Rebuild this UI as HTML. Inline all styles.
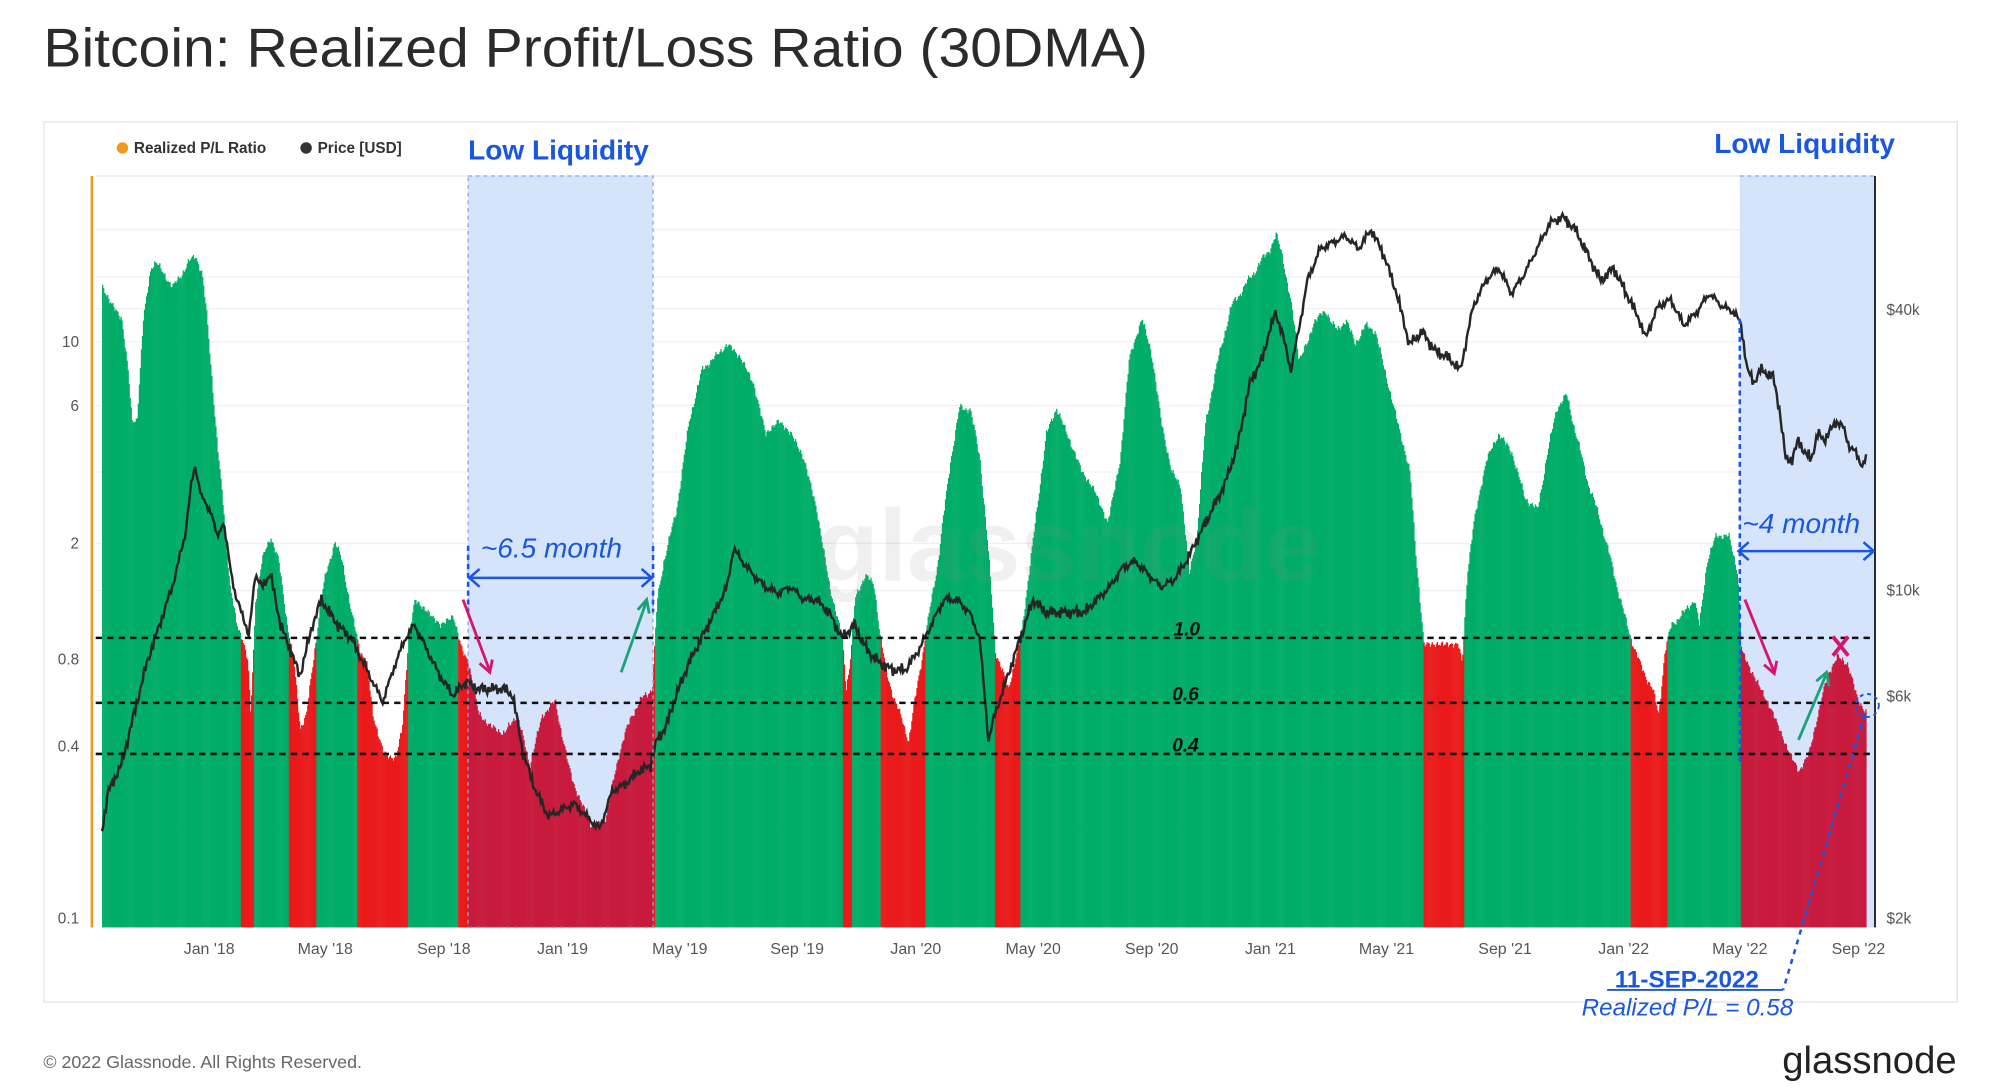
<!DOCTYPE html>
<html><head><meta charset="utf-8">
<style>
html,body{margin:0;padding:0;background:#fff;}
svg{display:block;}
text{font-family:"Liberation Sans",sans-serif;}
</style></head>
<body>
<svg id="c" width="2000" height="1092" viewBox="0 0 1568 856" preserveAspectRatio="none" xmlns="http://www.w3.org/2000/svg">
<rect width="1568" height="856" fill="#fff"/>
<text x="34" y="52" font-size="43" fill="#2b2b2b" textLength="866" lengthAdjust="spacingAndGlyphs">Bitcoin: Realized Profit/Loss Ratio (30DMA)</text>
<rect x="34.5" y="95.5" width="1500" height="690" fill="none" stroke="#e4e4e4"/>
<g stroke="#f0f0f0" stroke-width="1">
<line x1="75" x2="1470" y1="138" y2="138" stroke="#e6e6e6"/>
<line x1="75" x2="1470" y1="180" y2="180"/>
<line x1="75" x2="1470" y1="217" y2="217"/>
<line x1="75" x2="1470" y1="242" y2="242"/>
<line x1="75" x2="1470" y1="268" y2="268"/>
<line x1="75" x2="1470" y1="318" y2="318"/>
<line x1="75" x2="1470" y1="370" y2="370"/>
<line x1="75" x2="1470" y1="426" y2="426"/>
<line x1="75" x2="1470" y1="463" y2="463"/>
<line x1="75" x2="1470" y1="546" y2="546"/>
<line x1="75" x2="1470" y1="650" y2="650"/>
</g>
<rect x="367" y="138" width="145" height="589" fill="#d5e3fb"/>
<rect x="1364" y="138" width="106" height="589" fill="#d5e3fb"/>
<g id="area"></g>
<text x="640" y="455" font-size="80" fill="#888" opacity="0.12" font-weight="bold">glassnode</text>
<path id="price" fill="none" stroke="#262626" stroke-width="1.9"/>
<g fill="none" stroke="#8aa6dd" stroke-width="1" stroke-dasharray="3,3">
<rect x="367" y="138" width="145" height="589"/>
<line x1="1364" y1="138" x2="1470" y2="138"/>
</g>
<line x1="1364" y1="250" x2="1364" y2="600" stroke="#1a57e0" stroke-width="2" stroke-dasharray="4,3"/>
<line x1="367" y1="428" x2="367" y2="480" stroke="#1a57e0" stroke-width="2" stroke-dasharray="4,3"/>
<line x1="512" y1="428" x2="512" y2="480" stroke="#1a57e0" stroke-width="2" stroke-dasharray="4,3"/>
<line x1="72" y1="138" x2="72" y2="727" stroke="#f29a1f" stroke-width="2"/>
<line x1="1470" y1="138" x2="1470" y2="727" stroke="#222" stroke-width="1.5"/>
<g stroke="#111" stroke-width="2" stroke-dasharray="5,4">
<line x1="75" x2="1468" y1="500" y2="500"/>
<line x1="75" x2="1468" y1="551" y2="551"/>
<line x1="75" x2="1468" y1="591" y2="591"/>
</g>
<g font-size="15" font-weight="bold" font-style="italic" fill="#111">
<text x="920" y="498">1.0</text><text x="919" y="549">0.6</text><text x="919" y="589">0.4</text>
</g>
<g font-size="12" fill="#555" text-anchor="end">
<text x="62" y="272">10</text><text x="62" y="322">6</text><text x="62" y="430">2</text>
<text x="62" y="521">0.8</text><text x="62" y="589">0.4</text><text x="62" y="724">0.1</text>
</g>
<g font-size="12" fill="#555">
<text x="1479" y="247">$40k</text><text x="1479" y="467">$10k</text><text x="1479" y="550">$6k</text><text x="1479" y="724">$2k</text>
</g>
<g font-size="12.5" fill="#555" text-anchor="middle">
<text x="164" y="748">Jan '18</text><text x="255" y="748">May '18</text><text x="348" y="748">Sep '18</text>
<text x="441" y="748">Jan '19</text><text x="533" y="748">May '19</text><text x="625" y="748">Sep '19</text>
<text x="718" y="748">Jan '20</text><text x="810" y="748">May '20</text><text x="903" y="748">Sep '20</text>
<text x="996" y="748">Jan '21</text><text x="1087" y="748">May '21</text><text x="1180" y="748">Sep '21</text>
<text x="1273" y="748">Jan '22</text><text x="1364" y="748">May '22</text><text x="1457" y="748">Sep '22</text>
</g>
<circle cx="96" cy="116" r="4.5" fill="#f29a1f"/>
<text x="105" y="120" font-size="12" font-weight="bold" fill="#333">Realized P/L Ratio</text>
<circle cx="240" cy="116" r="4.5" fill="#333"/>
<text x="249" y="120" font-size="12" font-weight="bold" fill="#333">Price [USD]</text>
<g fill="#1a57e0">
<text x="367" y="125" font-size="22" font-weight="bold">Low Liquidity</text>
<text x="1344" y="120" font-size="22" font-weight="bold">Low Liquidity</text>
<text x="377" y="437" font-size="22" font-style="italic">~6.5 month</text>
<text x="1366" y="418" font-size="22" font-style="italic">~4 month</text>
<text x="1266" y="774" font-size="19" font-weight="bold">11-SEP-2022</text>
<text x="1240" y="796" font-size="19" font-style="italic">Realized P/L = 0.58</text>
</g>
<g stroke="#1a57e0" stroke-width="2" fill="none">
<line x1="368" y1="453" x2="511" y2="453"/>
<polyline points="376,446 368,453 376,460"/><polyline points="503,446 511,453 503,460"/>
<line x1="1363" y1="432" x2="1469" y2="432"/>
<polyline points="1371,425 1363,432 1371,439"/><polyline points="1461,425 1469,432 1461,439"/>
<line x1="1260" y1="776" x2="1398" y2="776" stroke-width="1.5"/>
<line x1="1462" y1="560" x2="1398" y2="776" stroke-dasharray="4,4" stroke-width="2"/>
<circle cx="1464" cy="553" r="9" stroke-dasharray="3,3" stroke-width="1.5"/>
</g>
<g stroke="#d6156e" stroke-width="2.2" fill="none">
<line x1="363" y1="470" x2="384" y2="526"/><polyline points="376,520 384,527 386,517"/>
<line x1="1368" y1="470" x2="1391" y2="527"/><polyline points="1383,521 1391,528 1393,518"/>
<path d="M1437,499 L1449,514 M1449,499 L1437,514" stroke-width="3"/>
</g>
<g stroke="#1aa37a" stroke-width="2.2" fill="none">
<line x1="487" y1="527" x2="507" y2="471"/><polyline points="500,478 507,470 509,481"/>
<line x1="1410" y1="580" x2="1432" y2="528"/><polyline points="1424,534 1432,527 1434,538"/>
</g>
<text x="34" y="837" font-size="14" fill="#666">© 2022 Glassnode. All Rights Reserved.</text>
<text x="1534" y="841" font-size="30" fill="#222" text-anchor="end">glassnode</text>
</svg>
<script>
function interp(pts,x){for(var i=0;i<pts.length-1;i++){if(x>=pts[i][0]&&x<=pts[i+1][0]){var t=(x-pts[i][0])/(pts[i+1][0]-pts[i][0]);return pts[i][1]+t*(pts[i+1][1]-pts[i][1]);}}return pts[pts.length-1][1];}
function P(a){var r=[];for(var i=0;i<a.length;i+=2)r.push([a[i],a[i+1]]);return r;}
var pl=P([80,225,85,235,95,250,100,290,103,330,107,330,112,250,118,210,122,205,128,215,135,225,142,215,148,205,153,200,158,215,162,250,166,300,170,350,175,400,180,460,185,490,190,500,194,520,196,560,198,520,200,470,205,440,212,420,218,440,225,490,230,520,235,570,240,560,245,520,250,480,255,450,262,425,268,440,275,480,282,510,287,520,292,560,300,590,310,595,315,570,320,500,325,470,335,480,345,490,355,483,362,510,367,520,375,560,385,570,395,575,405,560,415,600,425,560,435,550,445,600,455,630,465,650,475,640,485,590,495,560,505,545,511,540,515,470,520,440,530,400,540,330,550,290,560,280,570,270,580,280,590,300,600,340,610,330,620,340,630,360,640,400,650,460,660,500,663,540,666,520,670,470,678,450,685,460,690,500,695,530,705,560,712,580,720,530,725,500,735,440,745,360,752,320,760,320,768,360,775,440,780,510,790,540,800,500,810,420,820,340,828,320,838,345,848,370,858,385,868,410,878,360,885,280,895,250,902,275,910,330,918,370,925,380,932,450,938,420,945,330,955,280,965,240,975,225,985,210,995,195,1000,185,1005,200,1012,240,1018,280,1025,270,1030,250,1040,245,1048,260,1055,250,1062,270,1070,255,1078,260,1085,290,1095,330,1105,370,1110,440,1116,505,1130,505,1143,505,1146,520,1150,450,1155,410,1165,360,1175,340,1185,355,1195,390,1205,400,1212,360,1220,320,1228,310,1235,340,1245,380,1255,410,1265,450,1275,490,1285,520,1295,540,1300,560,1305,510,1310,490,1320,480,1328,470,1332,490,1338,440,1345,420,1355,420,1362,450,1365,510,1372,525,1380,540,1390,560,1400,585,1410,605,1418,590,1425,560,1432,530,1440,515,1448,520,1455,545,1463,560]);
var pr=P([80,650,85,620,95,600,105,560,115,520,125,490,135,460,145,420,150,380,153,365,158,390,165,400,170,420,175,410,180,440,185,470,190,480,195,500,200,450,205,460,212,450,220,490,228,510,235,530,240,510,245,490,252,470,258,480,265,490,275,500,285,520,295,540,300,550,310,520,318,500,325,490,335,510,345,530,355,545,365,535,375,540,385,540,395,540,402,545,410,590,420,620,430,640,440,635,450,630,460,640,470,650,480,620,490,615,500,605,510,600,515,580,522,570,530,545,540,520,550,500,560,480,570,460,575,430,582,440,590,450,600,460,610,465,620,460,630,470,640,470,650,480,660,500,670,490,680,510,690,520,700,525,710,525,720,510,730,490,740,470,750,470,760,480,768,500,775,580,780,560,790,530,800,500,810,470,820,480,830,480,840,480,850,480,860,470,870,460,880,445,890,440,900,450,910,460,920,455,930,440,940,420,950,400,960,380,970,350,980,300,990,280,995,260,1000,245,1005,260,1012,290,1018,260,1025,220,1035,195,1045,190,1055,185,1065,195,1075,180,1085,200,1095,230,1100,250,1105,270,1115,260,1125,275,1135,280,1145,290,1155,240,1165,220,1175,210,1185,230,1195,215,1205,195,1215,175,1225,170,1235,180,1245,200,1255,220,1265,210,1275,230,1285,250,1290,265,1300,240,1310,235,1320,255,1330,245,1340,230,1350,240,1360,245,1365,255,1370,290,1375,300,1380,290,1390,295,1395,320,1400,360,1405,360,1410,345,1415,355,1420,360,1425,340,1430,345,1440,330,1445,335,1450,350,1455,355,1460,365,1463,360]);
function n(x,s){return s*(Math.sin(x*1.7)*0.5+Math.sin(x*3.1+1)*0.3+Math.sin(x*0.53+2)*0.4+Math.sin(x*7.3)*0.3);}
var g='',step=0.8;
for(var x=80;x<=1463;x+=step){var y=interp(pl,x)+n(x,3);if(y>727)y=727;
 var inBand=(x>=367&&x<=512)||(x>=1364);
 var col=y<=500?'#00ad68':(inBand?'#c81a3c':'#ea1b1b');
 g+='<rect x="'+x.toFixed(1)+'" y="'+y.toFixed(1)+'" width="'+(step+0.2)+'" height="'+(727-y).toFixed(1)+'" fill="'+col+'"/>';}
document.getElementById('area').innerHTML=g;
var d='';for(var x=80;x<=1463;x+=1){var y=interp(pr,x)+n(x*1.3,4);d+=(x==80?'M':'L')+x+','+y.toFixed(1);}
document.getElementById('price').setAttribute('d',d);
</script>
</body></html>
